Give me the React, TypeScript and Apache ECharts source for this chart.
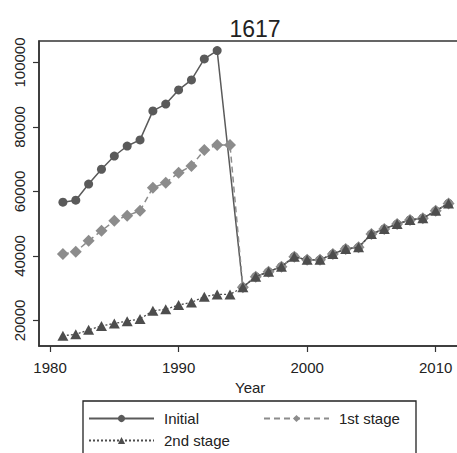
import React, { useEffect, useRef } from "react";
import * as echarts from "echarts";

const years = [
  1981, 1982, 1983, 1984, 1985, 1986, 1987, 1988, 1989, 1990, 1991, 1992, 1993, 1994, 1995, 1996,
  1997, 1998, 1999, 2000, 2001, 2002, 2003, 2004, 2005, 2006, 2007, 2008, 2009, 2010, 2011,
];
const initialValues = [
  56700, 57300, 62300, 66900, 71000, 74100, 76000, 85000, 87100, 91500, 94600, 101100, 103700, null,
  30300, 33600, 35100, 36700, 39800, 38800, 38800, 40600, 42200, 42700, 46800, 48400, 49900, 51200,
  51700, 54000, 56300,
];
const stage1Values = [
  40600, 41300, 44700, 47800, 50900, 52500, 54000, 61200, 62700, 65800, 67900, 72900, 74400, 74400,
  30300, 33600, 35100, 36700, 39800, 38800, 38800, 40600, 42200, 42700, 46800, 48400, 49900, 51200,
  51700, 54000, 56300,
];
const stage2Values = [
  15300, 15700, 17100, 18300, 19100, 19800, 20500, 23000, 23500, 24800, 25600, 27400, 28100, 28100,
  30300, 33600, 35100, 36700, 39800, 38800, 38800, 40600, 42200, 42700, 46800, 48400, 49900, 51200,
  51700, 54000, 56300,
];
const xTicks = [1980, 1990, 2000, 2010];
const yTicks = [20000, 40000, 60000, 80000, 100000];
const seriesNames = ["Initial", "1st stage", "2nd stage"];

const FONT = "'Liberation Sans', Arial, Helvetica, sans-serif";

export default function App() {
  const ref = useRef<HTMLDivElement>(null);
  useEffect(() => {
    if (!ref.current) return;
    const chart = echarts.init(ref.current, undefined, { renderer: "svg" });
    const pair = (vals: (number | null)[]) => years.map((y, i) => [y, vals[i]]);
    const legendCommon = {
      orient: "horizontal",
      padding: 0,
      itemWidth: 65,
      itemHeight: 9,
      textStyle: { fontSize: 15, fontFamily: FONT, color: "#222", padding: [0, 0, 0, 5] },
      selectedMode: false,
    };
    chart.setOption({
      animation: false,
      title: {
        text: "1617",
        left: 250,
        textAlign: "center",
        top: 12,
        textStyle: { fontSize: 23, fontWeight: "normal", fontFamily: FONT, color: "#222" },
      },
      grid: {
        left: 39,
        top: 41,
        width: 422.4,
        height: 305,
        outerBoundsMode: "none",
        containLabel: false,
        show: true,
        borderColor: "#333",
        borderWidth: 1.5,
        backgroundColor: "transparent",
      },
      graphic: [
        {
          type: "rect",
          shape: { x: 83, y: 401, width: 333, height: 70 },
          style: { fill: "none", stroke: "#222", lineWidth: 1.3 },
        },
      ],
      legend: [
        { ...legendCommon, data: [seriesNames[0]], left: 88, top: 411 },
        { ...legendCommon, data: [seriesNames[1]], left: 263, top: 411 },
        { ...legendCommon, data: [seriesNames[2]], left: 88, top: 433 },
      ],
      xAxis: {
        type: "value",
        min: 1979.14,
        max: 2012,
        name: "Year",
        nameLocation: "middle",
        nameGap: 29,
        nameTextStyle: { fontSize: 15, fontFamily: FONT, color: "#222" },
        splitLine: { show: false },
        axisLine: { show: true, lineStyle: { color: "#333", width: 1.5 } },
        axisTick: { show: true, length: 6, customValues: xTicks, lineStyle: { color: "#333", width: 1.2 } },
        axisLabel: {
          customValues: xTicks,
          fontSize: 15,
          fontFamily: FONT,
          color: "#222",
          margin: 14,
          formatter: (v: number) => String(v),
        },
      },
      yAxis: {
        type: "value",
        min: 12093,
        max: 106667,
        splitLine: { show: false },
        axisLine: { show: true, lineStyle: { color: "#333", width: 1.5 } },
        axisTick: { show: true, length: 6, customValues: yTicks, lineStyle: { color: "#333", width: 1.2 } },
        axisLabel: {
          customValues: yTicks,
          rotate: 90,
          fontSize: 15,
          fontFamily: FONT,
          color: "#222",
          margin: 12,
          formatter: (v: number) => String(v),
        },
      },
      series: [
        {
          name: seriesNames[0],
          type: "line",
          data: pair(initialValues),
          connectNulls: true,
          symbol: "circle",
          symbolSize: 9,
          itemStyle: { color: "#5a5a5a" },
          lineStyle: { color: "#5a5a5a", width: 1.5, type: "solid" },
          z: 2,
        },
        {
          name: seriesNames[1],
          type: "line",
          data: pair(stage1Values),
          symbol: "diamond",
          symbolSize: 12,
          itemStyle: { color: "#8c8c8c" },
          lineStyle: { color: "#8c8c8c", width: 1.5, type: [6, 4] },
          z: 3,
        },
        {
          name: seriesNames[2],
          type: "line",
          data: pair(stage2Values),
          symbol: "triangle",
          symbolSize: [11, 10],
          itemStyle: { color: "#4d4d4d" },
          lineStyle: { color: "#4d4d4d", width: 1.3, type: [2, 2] },
          z: 4,
        },
      ],
    });
    return () => chart.dispose();
  }, []);
  return <div ref={ref} style={{ width: 457, height: 453, position: "absolute", left: 0, top: 0 }} />;
}
